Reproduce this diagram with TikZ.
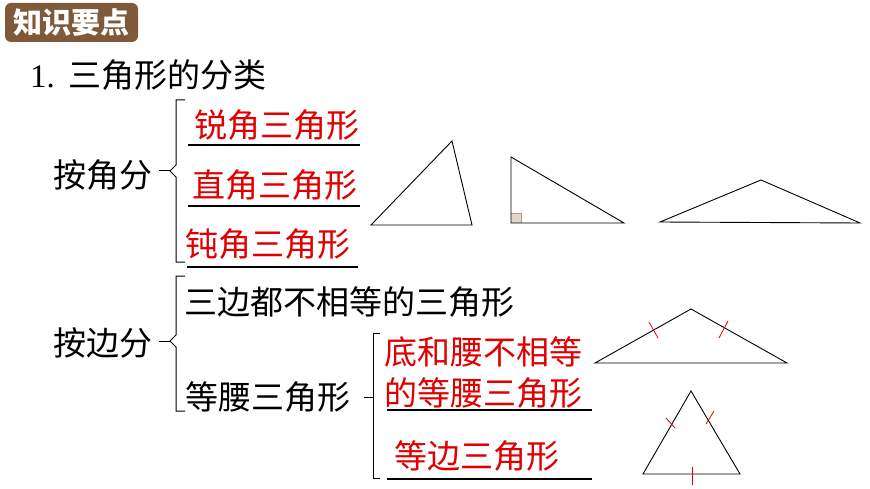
\documentclass[tikz,border=0pt]{standalone}
\usepackage{fontspec}
\setmainfont{Noto Sans CJK SC}
\newfontfamily\numfont{Liberation Serif}
\definecolor{brn}{HTML}{7E5A3B}
\definecolor{rd}{HTML}{E00000}
\begin{document}
\begin{tikzpicture}[x=1pt,y=-1pt,
  txt/.style={font=\fontsize{33}{35}\selectfont,inner sep=0pt},
  red/.style={txt,text=rd},
  ul/.style={line width=1.2pt},
  tri/.style={line width=0.9pt,line join=miter},
  tick/.style={draw=rd,line width=0.8pt}]
\useasboundingbox (0,0) rectangle (870,489);
\fill[white] (0,0) rectangle (870,489);
\node[fill=brn,rounded corners=6pt,minimum width=133pt,minimum height=39pt,text=white,font=\fontsize{29}{31}\selectfont\bfseries,inner sep=0pt] (hdr) at (71.5,22.5) {知识要点};
\node[txt,anchor=west] (title) at (30,75) {{\numfont 1.}\hspace{14pt}三角形的分类};
% first group
\node[txt] (ja) at (103,175) {按角分};
\draw[line width=1pt] (185,100) -- (176,100) -- (176,165) -- (170,171) -- (176,177) -- (176,262) -- (185,262);
\draw[line width=1pt] (170,171) -- (159,171);
\node[red] (r1) at (277,125) {锐角三角形};
\node[red] (r2) at (275,185) {直角三角形};
\node[red] (r3) at (268,244) {钝角三角形};
\draw[ul] (188,145) -- (360,145);
\draw[ul] (188,206) -- (360,206);
\draw[ul] (187,267) -- (358,267);
% second group
\node[txt] (jb) at (103,343) {按边分};
\draw[line width=1pt] (185,276) -- (176,276) -- (176,335) -- (170,341) -- (176,347) -- (176,411) -- (185,411);
\draw[line width=1pt] (170,341) -- (159,341);
\node[txt,anchor=west] (s1) at (184,302) {三边都不相等的三角形};
\node[txt] (s2) at (268,397) {等腰三角形};
\draw[line width=1pt] (380,333) -- (373,333) -- (373,478) -- (380,478);
\draw[line width=1pt] (373,397) -- (364,397);
\node[red,anchor=west] (s3) at (384,352) {底和腰不相等};
\node[red,anchor=west] (s4) at (384,393) {的等腰三角形};
\draw[ul] (387,410) -- (592,410);
\node[red] (s5) at (477,456) {等边三角形};
\draw[ul] (387,479) -- (592,479);
% triangles
\draw[tri] (371,225) -- (452,141) -- (472,225) -- cycle;
\fill[brn!25] (511,213) rectangle (521,223);
\draw[brn!60,line width=0.5pt] (511,213) -- (521,213) -- (521,223);
\draw[tri] (511,157) -- (511,223) -- (624,223) -- cycle;
\draw[tri] (660,222) -- (761,180) -- (860,223) -- cycle;
\draw[tri] (595,363) -- (691,309) -- (787,363) -- cycle;
\draw[tick] (649,322) -- (658,338);
\draw[tick] (728,321) -- (719,338);
\draw[tri] (643,474) -- (691,391) -- (740,474) -- cycle;
\draw[tick] (666,418) -- (675,428);
\draw[tick] (714,411) -- (706,424);
\draw[tick] (692,467) -- (692,485);
\end{tikzpicture}
\end{document}
